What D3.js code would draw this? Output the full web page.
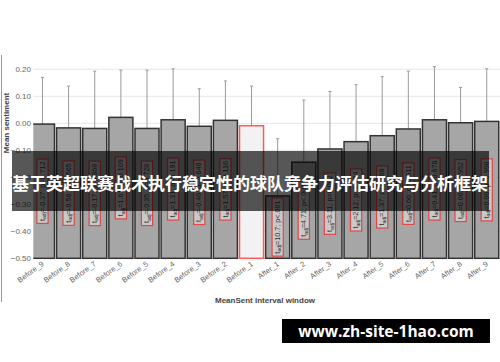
<!DOCTYPE html>
<html lang="en">
<head>
    <meta charset="UTF-8">
    <title>MeanSent interval window</title>
    <style>
        body { margin: 0; background: #fff; }
        svg { display: block; font-family: "Liberation Sans", Arial, sans-serif; }
        .grid line { stroke: #e6e6e6; stroke-width: 1px; }
        .tick-label { fill: #666; font-size: 8px; }
        .bar { fill: #a6a6a6; stroke: #333; stroke-width: 1.5px; }
        .bar.ref { fill: #f2f2f2; stroke: #ff5a5a; }
        .err { stroke: #9a9a9a; stroke-width: 1px; }
        .lab rect { fill: #c9c9c9; stroke: #e04848; stroke-width: 1.2px; }
        .lab text { fill: #333; font-size: 7.2px; }
    </style>
    <script src="https://d3js.org/d3.v7.min.js"></script>
</head>
<body>
<div id="chart"></div>
<script>
    // data
    const windows = ["Before_9", "Before_8", "Before_7", "Before_6", "Before_5", "Before_4", "Before_3", "Before_2", "Before_1",
                     "After_1", "After_2", "After_3", "After_4", "After_5", "After_6", "After_7", "After_8", "After_9"];
    const means = [-0.003, -0.017, -0.019, 0.022, -0.019, 0.013, -0.011, 0.011, -0.009,
                   -0.269, -0.144, -0.095, -0.068, -0.046, -0.021, 0.013, 0.002, 0.007];
    const upper = [0.170, 0.138, 0.193, 0.197, 0.197, 0.202, 0.128, 0.157, 0.138,
                   -0.057, 0.086, 0.118, 0.143, 0.173, 0.193, 0.210, 0.133, 0.202];
    const stats = ["=-0.37; p=0.712", "=-0.58; p=0.565", "=-0.17; p=0.868", "=1.61; p=0.109", "=-0.35; p=0.728",
                   "=1.31; p=0.191", "=-0.46; p=0.646", "=1.57; p=0.116", "",
                   "=10.7; p<.001", "=4.71; p<.001", "=3.11; p=0.002", "=2.12; p=0.034", "=1.37; p=0.168",
                   "=0.66; p=0.511", "=0.41; p=0.678", "=0.06; p=0.952", "=0.00; p=0.998"];
    const refWindow = "Before_1";
    const yTicks = [0.2, 0.1, 0.0, -0.1, -0.2, -0.3, -0.4, -0.5];
    const title = "基于英超联赛战术执行稳定性的球队竞争力评估研究与分析框架";
    const watermark = "www.zh-site-1hao.com";

    const width = 500, height = 362;
    const plotLeft = 33.3, plotRight = 500;

    const svg = d3.select("#chart").append("svg")
        .attr("width", width)
        .attr("height", height);

    const x = d3.scaleBand().domain(windows).range([29.4, 499.8]).paddingInner(0.08).paddingOuter(0.04);
    const y = d3.scaleLinear().domain([-0.5, 0.25]).range([258.3, 55.8]);

    svg.append("defs").append("clipPath").attr("id", "plot")
        .append("rect")
        .attr("x", plotLeft).attr("y", 0)
        .attr("width", plotRight - plotLeft).attr("height", height);

    // left frame line
    svg.append("line")
        .attr("x1", 1.5).attr("x2", 1.5)
        .attr("y1", 55).attr("y2", 302)
        .style("stroke", "#9a9a9a");

    // gridlines
    svg.append("g").attr("class", "grid")
        .selectAll("line")
        .data(yTicks)
        .enter().append("line")
        .attr("x1", plotLeft).attr("x2", plotRight)
        .attr("y1", d => y(d)).attr("y2", d => y(d));

    svg.append("g")
        .selectAll("text")
        .data(yTicks)
        .enter().append("text")
        .attr("class", "tick-label")
        .attr("x", 31)
        .attr("y", d => y(d))
        .attr("dy", "0.35em")
        .attr("text-anchor", "end")
        .text(d => d3.format(".2f")(d));

    const rows = windows.map((w, i) => ({ w, mean: means[i], up: upper[i], stat: stats[i] }));
    const plot = svg.append("g").attr("clip-path", "url(#plot)");
    const cx = d => x(d.w) + x.bandwidth() / 2;

    // error bars (upper half visible above the bars)
    plot.selectAll(".err")
        .data(rows)
        .enter().append("path")
        .attr("class", "err")
        .attr("d", d => `M${cx(d)},${y(d.mean)}V${y(d.up)}M${cx(d) - 1.5},${y(d.up)}H${cx(d) + 1.5}`);

    plot.selectAll(".bar")
        .data(rows)
        .enter().append("rect")
        .attr("class", d => d.w === refWindow ? "bar ref" : "bar")
        .attr("x", d => x(d.w))
        .attr("width", x.bandwidth())
        .attr("y", d => y(d.mean))
        .attr("height", d => y(-0.5) - y(d.mean));

    // rotated t-test labels inside the bars
    const lab = plot.selectAll(".lab")
        .data(rows.filter(d => d.stat))
        .enter().append("g")
        .attr("class", "lab")
        .attr("transform", d => `translate(${cx(d)},${(y(d.mean) + y(-0.5)) / 2}) rotate(-90)`);

    const rect = lab.append("rect");
    const txt = lab.append("text")
        .attr("text-anchor", "middle")
        .attr("dy", "0.3em");
    txt.append("tspan").text("t");
    txt.append("tspan").attr("font-size", "5px").attr("dy", "1.6").text("adj");
    txt.append("tspan").attr("dy", "-1.6").text(d => d.stat);

    txt.each(function () {
        const b = this.getBBox();
        d3.select(this.parentNode).select("rect")
            .attr("x", b.x - 2.5).attr("y", -5.6)
            .attr("width", b.width + 5).attr("height", 11.2);
    });

    // x tick labels
    svg.append("g")
        .selectAll("text")
        .data(windows)
        .enter().append("text")
        .attr("class", "tick-label")
        .style("font-size", "7.5px")
        .attr("text-anchor", "end")
        .attr("transform", d => `translate(${x(d) + x.bandwidth() / 2 + 2},${265}) rotate(-36)`)
        .text(d => d);

    svg.append("text")
        .attr("x", 265).attr("y", 303)
        .attr("text-anchor", "middle")
        .style("font-size", "8px").style("font-weight", "bold").style("fill", "#444")
        .text("MeanSent interval window");

    svg.append("text")
        .attr("transform", "translate(9,123) rotate(-90)")
        .attr("text-anchor", "middle")
        .style("font-size", "8px").style("font-weight", "bold").style("fill", "#444")
        .text("Mean sentiment");

    // title banner over the plot
    svg.append("rect")
        .attr("x", 12).attr("y", 151)
        .attr("width", 477).attr("height", 60)
        .style("fill", "rgba(0,0,0,0.66)");

    svg.append("text")
        .attr("x", 250).attr("y", 190)
        .attr("text-anchor", "middle")
        .style("font-family", "'Noto Sans CJK SC', sans-serif")
        .style("font-size", "17px").style("font-weight", "bold").style("fill", "#fff")
        .text(title);

    // watermark
    svg.append("rect")
        .attr("x", 282).attr("y", 319)
        .attr("width", 208).attr("height", 24)
        .style("fill", "#000");

    svg.append("text")
        .attr("x", 386).attr("y", 337)
        .attr("text-anchor", "middle")
        .style("font-family", "'Open Sans', 'Noto Sans', sans-serif")
        .style("font-size", "15.5px").style("font-weight", "bold").style("fill", "#fff")
        .text(watermark);
</script>
</body>
</html>
